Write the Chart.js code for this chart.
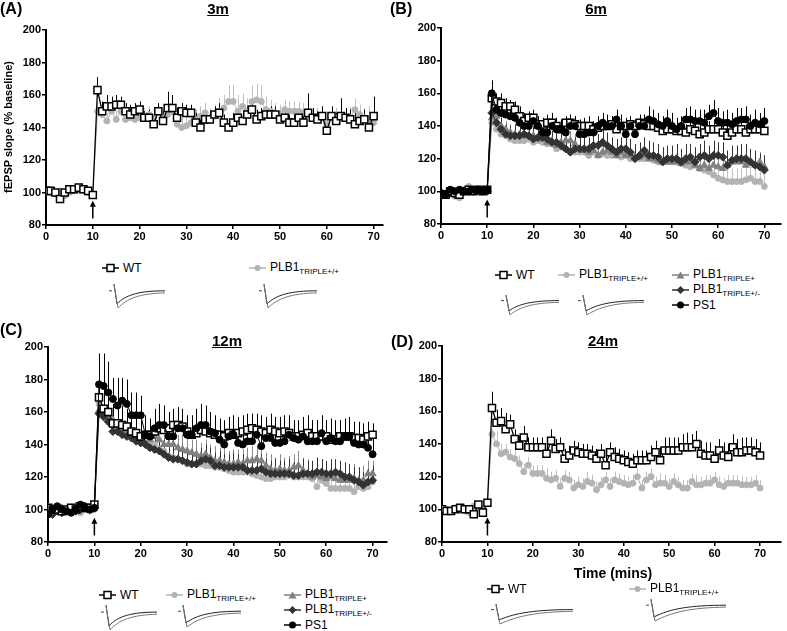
<!DOCTYPE html>
<html>
<head>
<meta charset="utf-8">
<script src="https://cdn.jsdelivr.net/npm/chart.js@4.4.0/dist/chart.umd.min.js"></script>
<style>
  body { margin: 0; background: #fff; font-family: "Liberation Sans", Arial, sans-serif; }
  #page { position: relative; width: 787px; height: 631px; overflow: hidden; }
  canvas { position: absolute; }
  .txt { position: absolute; color: #000; white-space: nowrap; }
  .letter { font-weight: bold; font-size: 16px; }
  .title { font-weight: bold; font-size: 15px; text-decoration: underline; transform: translateX(-50%); }
  .lg { position: absolute; height: 14px; display: flex; align-items: center; font-size: 12px; white-space: nowrap; }
  .lg svg { margin-right: 4px; }
  .lg sub { font-size: 8px; vertical-align: -3px; }
  .trace { position: absolute; }
</style>
</head>
<body>
<div id="page">
  <canvas id="chartA" width="393" height="250" style="left:0;top:0"></canvas>
  <canvas id="chartB" width="394" height="250" style="left:393px;top:0"></canvas>
  <canvas id="chartC" width="393" height="250" style="left:0;top:320px"></canvas>
  <canvas id="chartD" width="394" height="250" style="left:393px;top:320px"></canvas>

  <div class="txt letter" style="left:0;top:0">(A)</div>
  <div class="txt letter" style="left:390px;top:0">(B)</div>
  <div class="txt letter" style="left:0;top:321px">(C)</div>
  <div class="txt letter" style="left:391px;top:333px">(D)</div>

  <div class="txt title" style="left:218px;top:0">3m</div>
  <div class="txt title" style="left:596px;top:0">6m</div>
  <div class="txt title" style="left:227px;top:332px">12m</div>
  <div class="txt title" style="left:603px;top:332px">24m</div>

  <div class="txt" style="left:8px;top:127px;font-weight:bold;font-size:11px;transform:translate(-50%,-50%) rotate(-90deg)">fEPSP slope (% baseline)</div>
  <div class="txt" style="left:613px;top:565px;font-weight:bold;font-size:14px;transform:translateX(-50%)">Time (mins)</div>

  <div id="legends"></div>
</div>

<script>
// time axis (mins)
const minutes = [0,1,2,3,4,5,6,7,8,9,10,11,12,13,14,15,16,17,18,19,20,21,22,23,24,25,26,27,28,29,30,31,32,33,34,35,36,37,38,39,40,41,42,43,44,45,46,47,48,49,50,51,52,53,54,55,56,57,58,59,60,61,62,63,64,65,66,67,68,69,70];

// (A) 3m
const aWT = [101,101,100,96,100,102,102,103,102,101,98.5, 163,150,153,153,154,154,150,148,150,151, 146,146,142,150,144,152,152,146,150,149, 149,143,140,145,145,148,149,143,140,143, 146,144,148,151,145,147,148,148,148,145, 146,143,143,146,143,149,146,145,147,138, 147,144,147,146,145,142,144,145,140,147];
const aWTErr = [1,1,1,1,1,1,1,1,1,1,1, 8,6,7,6,6,5,5,6,5,5, 4,5,6,5,6,10,8,6,5,5, 5,6,6,5,5,5,6,5,5,6, 6,5,5,5,6,5,4,5,5,5, 5,5,6,5,7,12,6,5,6,6, 6,5,11,6,6,7,6,6,7,12];
const aTG = [100,100,99,101,98,100,101,102,101,100,99, 150,148,144,150,145,150,145,146,145,146, 147,148,146,150,146,148,150,142,140,141, 143,145,147,149,146,147,150,152,156,156, 150,153,150,156,157,156,151,150,149,148, 151,150,150,150,149,148,146,145,146,142, 146,146,147,146,146,151,148,146,145,143];
const aTGErr = [1,1,1,1,1,1,1,1,1,1,1, 6,5,5,5,5,5,5,5,5,5, 5,5,6,5,6,5,6,6,6,6, 6,6,6,6,6,7,8,8,10,10, 10,8,8,10,10,10,8,7,6,6, 6,6,6,6,6,6,6,7,6,6, 6,6,6,6,7,7,6,6,8,6];

// (B) 6m
const bWT = [98,98,100,99,98,100,101,100,101,100,101, 157,155,154,152,152,150,146,143,145,145, 141,141,142,142,140,138,142,142,141,140, 140,140,138,139,140,140,141,138,140,140, 141,140,142,141,140,140,139,137,138,138, 137,137,136,138,137,135,136,138,138,138, 136,134,136,138,138,136,138,138,138,137];
const bWTErr = [1,2,1,1,1,2,1,1,1,1,1, 6,5,6,5,4,5,6,5,4,5, 5,4,5,6,5,5,4,5,5,4, 5,6,5,5,4,5,5,6,5,5, 5,4,5,6,5,5,5,4,5,5, 6,5,5,4,5,6,5,5,6,5, 5,6,5,5,4,5,6,5,5,6];
const bPS1 = [99,98,101,100,101,100,100,101,101,100,101, 160,150,148,147,146,145,142,140,140,143, 140,136,136,140,138,138,136,140,140,135, 135,136,136,140,142,140,140,144,140,135, 140,135,140,140,144,143,141,140,143,140, 138,140,144,144,143,143,142,146,148,143, 142,142,141,143,144,144,140,142,141,143];
const bPS1Err = [1,1,1,1,1,1,1,1,1,1,1, 8,7,6,6,6,5,6,6,6,5, 6,6,7,6,6,6,7,6,6,6, 6,6,7,6,6,7,6,6,7,8, 6,7,6,7,8,7,7,6,7,8, 7,6,7,8,7,7,8,7,8,8, 7,8,7,8,7,8,7,8,7,8];
const bTM = [98,98,99,98,99,100,100,100,101,101,100, 148,142,138,135,134,134,134,135,134,132, 133,133,132,130,130,128,126,124,126,126, 126,126,128,128,130,128,126,124,126,126, 124,120,122,125,122,122,121,118,120,120, 120,118,120,121,118,121,122,120,122,122, 121,116,119,120,120,120,118,116,115,113];
const bTMErr = [1,1,1,1,1,1,1,1,1,1,1, 6,6,7,6,6,7,7,6,7,7, 7,6,7,7,8,7,7,8,7,7, 8,7,8,7,8,8,7,8,7,8, 8,9,8,8,9,8,8,9,8,8, 9,8,9,8,9,8,9,8,9,8, 9,9,9,8,9,9,8,9,8,9];
const bTP = [97,97,98,99,100,100,101,100,100,100,101, 145,146,140,138,136,135,135,134,134,134, 132,132,130,131,128,130,131,131,129,126, 125,124,125,122,124,125,124,122,124,122, 122,121,121,122,120,120,119,118,118,118, 118,117,118,118,116,114,116,114,116,115, 114,116,118,118,118,116,118,116,118,115];
const bTPErr = [1,1,1,1,1,1,1,1,1,1,1, 5,5,6,5,5,6,5,6,5,6, 6,6,6,6,6,6,6,6,6,6, 6,7,6,6,6,7,6,6,7,6, 6,7,6,6,7,6,7,6,6,7, 7,6,7,6,7,6,7,7,6,7, 7,6,7,7,6,7,6,7,6,7];
const bTG = [98,99,100,97,96,101,103,101,100,101,100, 142,138,135,134,132,131,131,131,132,130, 131,130,129,129,126,127,126,124,124,124, 124,122,124,122,123,122,122,122,121,122, 120,121,120,120,120,119,118,118,118,118, 118,117,116,115,116,114,113,112,110,108, 107,106,106,106,106,107,108,106,106,103];
const bTGErr = [1,1,1,1,1,1,1,1,1,1,1, 6,6,5,6,5,6,5,6,5,6, 5,6,5,6,6,5,6,6,5,6, 6,6,6,5,6,6,6,6,6,6, 6,6,6,6,6,6,6,6,7,6, 6,6,7,7,7,7,8,8,8,8, 8,8,8,8,8,8,7,8,8,8];

// (C) 12m
const cWT = [101,100,100,99,100,101,100,102,101,101,103, 169,162,160,153,153,152,151,148,147,145, 146,146,148,150,149,150,152,152,151,148, 146,147,149,148,147,146,146,145,147,146, 147,148,149,150,149,148,147,149,148,147, 148,147,145,145,146,147,145,145,145,145, 143,143,145,145,145,144,144,143,145,146];
const cWTErr = [1,1,1,1,1,1,1,1,1,1,2, 15,14,12,12,11,12,11,11,10,10, 10,9,10,11,10,10,10,11,10,10, 10,10,10,10,10,9,10,10,10,10, 10,10,10,9,10,10,10,10,9,10, 10,10,10,9,10,11,10,10,10,10, 9,10,10,10,9,10,10,10,9,7];
const cPS1 = [97,100,102,100,99,98,100,103,101,100,101, 177,176,172,168,164,167,165,158,158,158, 146,145,150,152,152,145,145,150,150,146, 146,150,152,152,148,147,143,140,145,146, 141,140,142,142,146,139,144,144,141,141, 142,146,144,143,145,142,142,142,147,142, 144,142,142,145,145,141,140,140,138,134];
const cPS1Err = [1,1,1,1,1,1,1,1,1,1,1, 19,20,19,13,17,14,15,14,14,12, 12,11,12,13,12,12,11,12,12,11, 12,12,13,12,12,11,12,11,11,12, 11,12,11,12,12,11,12,12,11,12, 11,12,11,12,12,12,13,12,11,13, 12,13,12,11,12,12,11,12,11,12];
const cTM = [98,97,99,98,99,101,99,100,102,100,101, 159,157,154,148,148,146,145,144,142,141, 140,138,137,136,134,132,131,131,130,129, 128,128,130,131,130,127,127,126,126,126, 126,126,124,124,124,125,123,122,122,122, 122,122,121,121,122,122,122,123,123,122, 122,123,122,120,120,118,117,115,117,118];
const cTMErr = [1,1,1,1,1,1,1,1,1,1,1, 8,8,9,8,8,9,8,8,9,8, 8,9,8,8,9,8,8,9,8,8, 9,8,8,9,8,8,9,8,8,9, 8,8,9,8,8,9,8,8,9,8, 8,9,8,8,9,8,8,9,8,8, 9,8,8,9,8,8,9,8,8,9];
const cTP = [100,101,100,101,100,101,102,100,101,100,101, 161,160,158,155,153,150,149,147,146,145, 145,143,145,143,140,140,140,138,137,136, 135,134,133,134,132,130,130,129,128,128, 129,128,130,130,131,130,127,125,124,125, 124,124,126,127,124,122,120,121,120,119, 120,119,118,118,118,119,118,118,122,122];
const cTPErr = [1,1,1,1,1,1,1,1,1,1,1, 9,9,8,9,9,8,9,8,9,8, 9,8,9,8,9,8,9,8,9,8, 8,9,8,9,8,9,8,9,8,9, 8,9,8,9,8,9,8,9,8,9, 8,9,8,9,8,9,8,9,8,9, 8,9,8,9,8,9,8,9,8,8];
const cTG = [102,101,100,100,99,100,100,98,100,99,100, 165,160,157,152,150,150,147,147,144,143, 142,141,140,137,136,133,132,131,130,128, 128,128,128,127,127,126,126,125,124,123, 123,123,123,122,121,120,119,119,120,120, 120,121,120,120,120,120,119,114,118,116, 113,113,113,113,113,111,114,113,114,117];
const cTGErr = [1,1,1,1,1,1,1,1,1,1,1, 9,9,9,8,8,8,8,8,8,8, 8,8,8,8,8,8,8,8,8,8, 8,8,8,8,8,8,8,8,8,8, 8,8,8,8,8,8,8,8,8,8, 8,8,8,8,8,8,8,9,8,8, 9,8,9,8,9,9,8,9,8,8];

// (D) 24m
const dWT = [100,99,99,100,101,100,100,97,103,98,104, 162,153,154,149,152,143,139,144,138,138, 138,138,134,142,137,138,131,133,136,135, 134,134,133,131,134,127,135,132,131,130, 129,128,130,130,130,132,135,130,136,136, 136,136,138,138,138,140,134,133,133,131, 136,133,132,138,135,135,136,136,135,133];
const dWTErr = [1,1,1,1,1,1,1,1,1,1,1, 10,8,8,10,6,6,6,7,6,6, 6,6,6,7,6,6,6,6,6,6, 6,6,6,6,6,6,6,6,6,6, 6,6,6,6,6,7,7,8,8,8, 8,8,8,9,8,8,8,8,8,8, 7,8,8,8,8,9,8,8,8,8];
const dTG = [100,100,99,101,100,99,98,102,101,100,104, 146,140,134,135,132,131,128,123,127,122, 122,122,119,118,119,114,119,118,113,115, 114,117,116,112,115,118,114,118,117,116, 115,116,120,113,118,120,115,116,116,114, 117,115,113,113,117,115,115,116,116,118, 115,114,116,116,116,115,115,115,116,113];
const dTGErr = [1,1,1,1,1,1,1,1,1,1,1, 3,8,6,5,5,5,5,5,5,5, 5,5,6,5,5,5,5,5,5,5, 5,6,5,5,5,5,5,5,5,5, 5,5,5,5,5,5,5,6,5,5, 5,5,5,5,5,6,5,5,5,5, 5,5,5,5,5,5,5,5,5,5];

const yTicks = [80, 100, 120, 140, 160, 180, 200];
const xTicks = [0, 10, 20, 30, 40, 50, 60, 70];

// series styles
const STYLE = {
  wt:  { color: '#000', fill: '#fff', pointStyle: 'rect', pointRadius: 5, borderWidth: 1.5, errColor: '#000' },
  ps1: { color: '#000', fill: '#000', pointStyle: 'circle', pointRadius: 3.5, borderWidth: 1, errColor: '#000' },
  tm:  { color: '#333', fill: '#333', pointStyle: 'rectRot', pointRadius: 4, borderWidth: 1, errColor: '#333' },
  tp:  { color: '#808080', fill: '#808080', pointStyle: 'triangle', pointRadius: 4, borderWidth: 1, errColor: '#8a8a8a' },
  tg:  { color: '#b3b3b3', fill: '#b3b3b3', pointStyle: 'circle', pointRadius: 3, borderWidth: 1, errColor: '#c0c0c0' }
};

function series(kind, values, errors) {
  const s = STYLE[kind];
  return {
    data: values,
    errors: errors,
    errColor: s.errColor,
    borderColor: s.color,
    borderWidth: kind === 'wt' ? 1.3 : 1,
    pointStyle: s.pointStyle,
    pointRadius: s.pointRadius,
    pointBorderWidth: s.borderWidth,
    pointBorderColor: s.color,
    pointBackgroundColor: s.fill,
    tension: 0
  };
}

// upward-only SEM bars, drawn under the points
const errorBars = {
  id: 'errorBars',
  beforeDatasetsDraw(chart) {
    const { ctx, scales: { x, y } } = chart;
    for (let i = chart.data.datasets.length - 1; i >= 0; i--) {
      const ds = chart.data.datasets[i];
      if (!ds.errors) continue;
      ctx.save();
      ctx.strokeStyle = ds.errColor;
      ctx.lineWidth = 1;
      ds.data.forEach((v, j) => {
        const px = Math.round(x.getPixelForValue(minutes[j])) + 0.5;
        ctx.beginPath();
        ctx.moveTo(px, y.getPixelForValue(v));
        ctx.lineTo(px, y.getPixelForValue(v + ds.errors[j]));
        ctx.stroke();
      });
      ctx.restore();
    }
  }
};

// tetanus arrow at 10 min
const tetanusArrow = {
  id: 'tetanusArrow',
  afterDatasetsDraw(chart) {
    const { ctx, scales: { x, y } } = chart;
    const px = x.getPixelForValue(10);
    const yb = y.getPixelForValue(84), yt = y.getPixelForValue(95);
    ctx.save();
    ctx.strokeStyle = '#000';
    ctx.fillStyle = '#000';
    ctx.lineWidth = 1.5;
    ctx.beginPath();
    ctx.moveTo(px, yb);
    ctx.lineTo(px, yt + 4);
    ctx.stroke();
    ctx.beginPath();
    ctx.moveTo(px, yt);
    ctx.lineTo(px - 3, yt + 6);
    ctx.lineTo(px + 3, yt + 6);
    ctx.closePath();
    ctx.fill();
    ctx.restore();
  }
};

const tickFont = { family: '"Liberation Sans", Arial, sans-serif', size: 11, weight: 'bold' };

function makePanel(id, xMax, yWidth, padding, datasets) {
  new Chart(document.getElementById(id), {
    type: 'line',
    data: { labels: minutes, datasets: datasets },
    options: {
      responsive: false,
      animation: false,
      layout: { padding: padding },
      plugins: { legend: { display: false }, tooltip: { enabled: false } },
      scales: {
        x: {
          type: 'linear', min: 0, max: xMax,
          afterBuildTicks: s => { s.ticks = xTicks.map(v => ({ value: v })); },
          ticks: { color: '#000', font: tickFont, maxRotation: 0, padding: 1 },
          grid: { drawOnChartArea: false, color: '#000', tickLength: 4, lineWidth: 1.5 },
          border: { color: '#000', width: 2 },
          afterFit: s => { s.height = 20; }
        },
        y: {
          min: 80, max: 200,
          afterBuildTicks: s => { s.ticks = yTicks.map(v => ({ value: v })); },
          ticks: { color: '#000', font: tickFont, padding: 1 },
          grid: { drawOnChartArea: false, color: '#000', tickLength: 4, lineWidth: 1.5 },
          border: { color: '#000', width: 2 },
          afterFit: s => { s.width = yWidth; }
        }
      }
    },
    plugins: [errorBars, tetanusArrow]
  });
}

makePanel('chartA', 72, 46, { left: 0, top: 30, right: 10, bottom: 5 }, [
  series('wt', aWT, aWTErr),
  series('tg', aTG, aTGErr)
]);
makePanel('chartB', 73.5, 48, { left: 0, top: 28, right: 1, bottom: 6 }, [
  series('ps1', bPS1, bPS1Err),
  series('wt', bWT, bWTErr),
  series('tm', bTM, bTMErr),
  series('tp', bTP, bTPErr),
  series('tg', bTG, bTGErr)
]);
makePanel('chartC', 73, 48, { left: 0, top: 27, right: 1, bottom: 8 }, [
  series('ps1', cPS1, cPS1Err),
  series('wt', cWT, cWTErr),
  series('tm', cTM, cTMErr),
  series('tp', cTP, cTPErr),
  series('tg', cTG, cTGErr)
]);
makePanel('chartD', 74.5, 49, { left: 0, top: 26, right: 0, bottom: 8 }, [
  series('wt', dWT, dWTErr),
  series('tg', dTG, dTGErr)
]);

// legends with sample fEPSP traces
const MARK = {
  wt: '<rect x="5" y="1.5" width="7" height="7" fill="#fff" stroke="#000" stroke-width="1.5"/>',
  tg: '<circle cx="8.5" cy="5" r="3" fill="#b3b3b3"/>',
  tp: '<path d="M8.5 1.5 L12.5 8.5 L4.5 8.5Z" fill="#808080"/>',
  tm: '<path d="M8.5 1 L12.5 5 L8.5 9 L4.5 5Z" fill="#333"/>',
  ps1: '<circle cx="8.5" cy="5" r="3.5" fill="#000"/>'
};
const PLB = 'PLB1<sub>';
const legendItems = [
  [102, 268, 'wt', 'WT'], [249, 268, 'tg', PLB + 'TRIPLE+/+</sub>'],
  [495, 275, 'wt', 'WT'], [558, 275, 'tg', PLB + 'TRIPLE+/+</sub>'],
  [672, 275, 'tp', PLB + 'TRIPLE+</sub>'], [672, 290, 'tm', PLB + 'TRIPLE+/-</sub>'], [672, 305, 'ps1', 'PS1'],
  [99, 595, 'wt', 'WT'], [166, 595, 'tg', PLB + 'TRIPLE+/+</sub>'],
  [284, 595, 'tp', PLB + 'TRIPLE+</sub>'], [284, 610, 'tm', PLB + 'TRIPLE+/-</sub>'], [284, 625, 'ps1', 'PS1'],
  [487, 589, 'wt', 'WT'], [629, 589, 'tg', PLB + 'TRIPLE+/+</sub>']
];
const traces = [
  [108, 283, 58, 26], [258, 283, 60, 26],
  [500, 294, 60, 22], [577, 294, 68, 22],
  [100, 604, 58, 27], [177, 604, 65, 24],
  [490, 603, 84, 22], [645, 598, 82, 24]
];
let html = '';
legendItems.forEach(([l, t, k, label]) => {
  const c = STYLE[k].color;
  html += `<div class="lg" style="left:${l}px;top:${t - 7}px"><svg width="17" height="10">` +
    `<line x1="0" y1="5" x2="17" y2="5" stroke="${c}" stroke-width="1.5"/>${MARK[k]}</svg><span>${label}</span></div>`;
});
traces.forEach(([l, t, w, h]) => {
  html += `<svg class="trace" style="left:${l}px;top:${t}px" width="${w}" height="${h}">` +
    `<path d="M1 ${h * 0.3} L4 ${h * 0.3}" stroke="#444" fill="none"/>` +
    `<path d="M6 1 L9 ${h - 5} C ${w * 0.3} ${h * 0.45} ${w * 0.55} ${h * 0.3} ${w - 1} ${h * 0.3}" stroke="#222" stroke-width="1" fill="none"/>` +
    `<path d="M6 2 L10 ${h - 1} C ${w * 0.32} ${h * 0.6} ${w * 0.55} ${h * 0.4} ${w - 1} ${h * 0.38}" stroke="#777" stroke-width="1" fill="none"/>` +
    `</svg>`;
});
document.getElementById('legends').innerHTML = html;
</script>
</body>
</html>
